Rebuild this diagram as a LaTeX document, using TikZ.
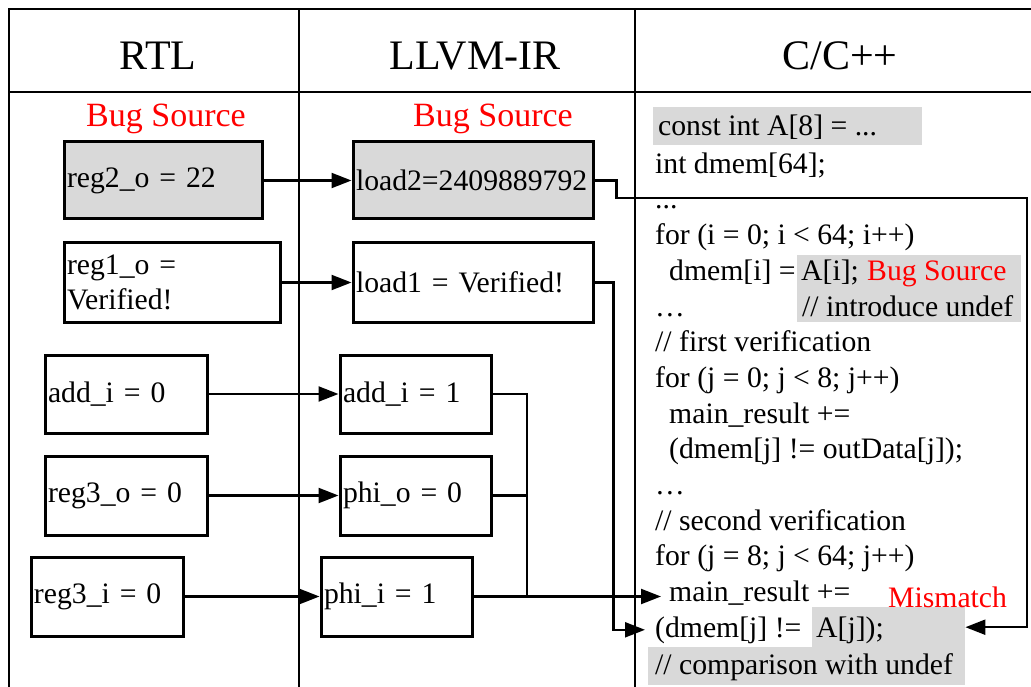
\documentclass[tikz,border=0pt]{standalone}
\usepackage{fontspec}
\setmainfont{Liberation Serif}
\usetikzlibrary{arrows.meta}
\definecolor{boxgray}{RGB}{217,217,217}
\newcommand\bodyfont{\fontsize{29.7}{35.7}\selectfont}
\newcommand\headfont{\fontsize{42}{50}\selectfont}
\newcommand\bugfont{\fontsize{34}{40}\selectfont}
\tikzset{
  regbox/.style={draw, line width=3pt, anchor=north west, align=left,
    inner xsep=3pt, inner ysep=0pt, font=\bodyfont},
  codeline/.style={anchor=west, inner sep=0pt, font=\bodyfont,
    text height=22pt, text depth=7pt, yshift=-2pt},
  graybox/.style={fill=boxgray, anchor=north west, inner sep=0pt},
  conn/.style={line width=2.2pt, -{Triangle[length=20pt,width=15pt]}},
  wire/.style={line width=2.2pt},
  frame/.style={line width=1.6pt},
}
\begin{document}
\begin{tikzpicture}[x=1pt,y=-1pt]
  \useasboundingbox (0,0) rectangle (1031,687);
  % table frame
  \draw[frame] (9,687) -- (9,9) -- (1031,9);
  \draw[line width=2.5pt] (9,92) -- (1031,92);
  \draw[frame] (299,9) -- (299,687);
  \draw[frame] (635,9) -- (635,687);
  \node[font=\headfont, anchor=base] (hrtl) at (158,70) {RTL};
  \node[font=\headfont, anchor=base] (hir) at (475,70) {LLVM-IR};
  \node[font=\headfont, anchor=base] (hc) at (840,70) {C/C++};
  \node[font=\bugfont, text=red, anchor=base] (bugrtl) at (166,127) {Bug Source};
  \node[font=\bugfont, text=red, anchor=base] (bugir) at (493,127) {Bug Source};
  % RTL signals
  \node[regbox, fill=boxgray, text width=192pt, minimum height=77pt] (reg2) at (62.5,140.5) {reg2\_o = 22};
  \node[regbox, text width=210pt, minimum height=79pt] (reg1) at (62.5,241.5) {reg1\_o =\\Verified!};
  \node[regbox, text width=156pt, minimum height=78pt] (addi0) at (43.5,353.5) {add\_i = 0};
  \node[regbox, text width=156pt, minimum height=79pt] (reg3o) at (43.5,454.5) {reg3\_o = 0};
  \node[regbox, text width=146pt, minimum height=79pt] (reg3i) at (29.5,555.5) {reg3\_i = 0};
  % LLVM-IR values
  \node[regbox, fill=boxgray, text width=234pt, minimum height=77pt] (load2) at (351.5,140.5) {load2=2409889792};
  \node[regbox, text width=234pt, minimum height=79pt] (load1) at (351.5,241.5) {load1 = Verified!};
  \node[regbox, text width=145pt, minimum height=78pt] (addi1) at (338.5,353.5) {add\_i = 1};
  \node[regbox, text width=145pt, minimum height=79pt] (phio) at (338.5,454.5) {phi\_o = 0};
  \node[regbox, text width=145pt, minimum height=79pt] (phii) at (319.5,555.5) {phi\_i = 1};
  % C/C++ source
  \node[graybox, minimum width=269pt, minimum height=38pt] (constbg) at (653,107) {};
  \node[graybox, minimum width=224pt, minimum height=67pt] (undefbg) at (797,255) {};
  \node[graybox, minimum width=153pt, minimum height=40pt] (aj) at (812,607) {};
  \node[graybox, minimum width=317pt, minimum height=38pt] (cmpbg) at (648,647) {};
  \node[codeline] (c1) at (658,126) {const int A[8] = ...};
  \node[codeline] (c2) at (655,163.7) {int dmem[64];};
  \node[codeline] (c3) at (655,199.4) {...};
  \node[codeline] (c4) at (655,235.1) {for (i = 0; i < 64; i++)};
  \node[codeline] (c5) at (669,270.8) {dmem[i] =};
  \node[codeline] (c5b) at (801,270.8) {A[i];};
  \node[codeline, text=red] (c5c) at (867,270.8) {Bug Source};
  \node[codeline] (c6) at (655,306.5) {…};
  \node[codeline] (c6b) at (802,306.5) {// introduce undef};
  \node[codeline] (c7) at (655,342.2) {// first verification};
  \node[codeline] (c8) at (655,377.9) {for (j = 0; j < 8; j++)};
  \node[codeline] (c9) at (669,413.6) {main\_result +=};
  \node[codeline] (c10) at (669,449.3) {(dmem[j] != outData[j]);};
  \node[codeline] (c11) at (655,485) {…};
  \node[codeline] (c12) at (655,520.7) {// second verification};
  \node[codeline] (c13) at (655,556.4) {for (j = 8; j < 64; j++)};
  \node[codeline] (c14) at (669,592.1) {main\_result +=};
  \node[codeline, text=red] (mism) at (888,598) {Mismatch};
  \node[codeline] (c15) at (655,627.8) {(dmem[j] !=};
  \node[codeline] (c15b) at (816,627.8) {A[j]);};
  \node[codeline] (c16) at (655,665) {// comparison with undef};
  % connections
  \draw[conn] (reg2.east) -- (load2.west);
  \draw[conn] (reg1.east) -- (load1.west);
  \draw[conn] (addi0.east) -- (addi1.west);
  \draw[conn] (reg3o.east) -- (phio.west);
  \draw[conn] (reg3i.east) -- (phii.west);
  \coordinate (join) at (527,595);
  \draw[wire] (addi1.east) -| (join);
  \draw[wire] (phio.east) -- (phio.east -| join);
  \draw[conn, shorten >=8pt] (phii.east) -- (phii.east -| c14.west);
  \draw[conn, shorten >=10pt] (load1.east) -- ++(19,0) |- (c15.west);
  \coordinate (rtop) at (1027,198);
  \draw[conn] (load2.east) -- ++(22,0) |- (rtop) |- (aj.east);
\end{tikzpicture}
\end{document}
